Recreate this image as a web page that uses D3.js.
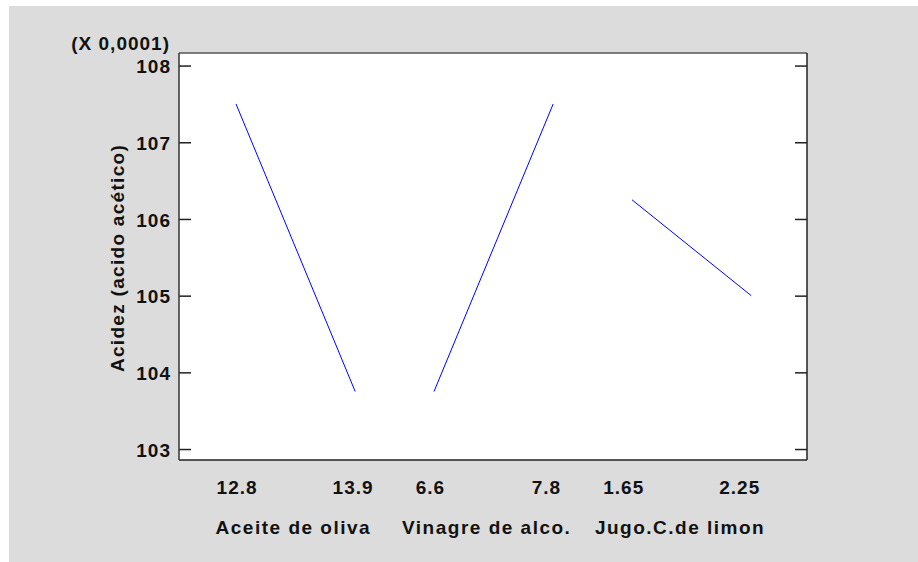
<!DOCTYPE html>
<html>
<head>
<meta charset="utf-8">
<script src="https://cdn.jsdelivr.net/npm/d3@7"></script>
<style>
  html, body { margin: 0; padding: 0; background: #ffffff; }
  svg { display: block; }
  text { font-family: "Liberation Sans", Arial, sans-serif; font-weight: bold; fill: #111; }
</style>
</head>
<body>
<svg id="chart" width="918" height="562"></svg>
<script>
// ---- data ----
const factors    = ["Aceite de oliva", "Vinagre de alco.", "Jugo.C.de limon"];
const lowLabels  = ["12.8", "6.6", "1.65"];
const highLabels = ["13.9", "7.8", "2.25"];
const lowMeans   = [107.5, 103.75, 106.25];
const highMeans  = [103.75, 107.5, 105.0];
const yTicks     = [103, 104, 105, 106, 107, 108];
const yTitle     = "Acidez (acido acético)";
const yMultiplier = "(X 0,0001)";

// ---- layout ----
const svg = d3.select("#chart");
const plot = { left: 179, top: 53, right: 807, bottom: 460 };

svg.append("rect").attr("x", 9).attr("y", 6).attr("width", 909).attr("height", 556).attr("fill", "#dcdcdc");
svg.append("rect").attr("x", plot.left).attr("y", plot.top)
   .attr("width", plot.right - plot.left).attr("height", plot.bottom - plot.top)
   .attr("fill", "#ffffff");

const y = d3.scaleLinear().domain([102.857, 108.164]).range([plot.bottom, plot.top]);
const xBand = d3.scaleBand().domain(factors).range([196, 790]).padding(0);
const xLabelBand = d3.scaleBand().domain(factors).range([196, 776]).padding(0);
const level = d3.scaleLinear().domain([0, 1]).range([0.202, 0.804]);
const labelLevel = d3.scaleLinear().domain([0, 1]).range([0.21, 0.81]);

// ---- axes ----
const yAxisL = d3.axisLeft(y).tickValues(yTicks).tickFormat(d3.format("d"))
  .tickSizeInner(-12).tickSizeOuter(0).tickPadding(8);
const gL = svg.append("g").attr("transform", `translate(${plot.left},0)`).call(yAxisL);
gL.select(".domain").remove();
gL.selectAll(".tick line").attr("stroke", "#222").attr("stroke-width", 1.5);
gL.selectAll(".tick text")
  .attr("font-size", 19).attr("letter-spacing", "1px")
  .attr("font-family", "Liberation Sans, Arial, sans-serif").attr("font-weight", "bold")
  .attr("fill", "#111").attr("dy", "0.38em");

const yAxisR = d3.axisRight(y).tickValues(yTicks).tickFormat("")
  .tickSizeInner(-12).tickSizeOuter(0);
const gR = svg.append("g").attr("transform", `translate(${plot.right},0)`).call(yAxisR);
gR.select(".domain").remove();
gR.selectAll(".tick line").attr("stroke", "#222").attr("stroke-width", 1.5);

// frame
svg.append("line").attr("x1", plot.left).attr("x2", plot.right).attr("y1", plot.top).attr("y2", plot.top)
   .attr("stroke", "#555").attr("stroke-width", 1.5);
svg.append("line").attr("x1", plot.left).attr("x2", plot.right).attr("y1", plot.bottom).attr("y2", plot.bottom)
   .attr("stroke", "#222").attr("stroke-width", 1.5);
svg.append("line").attr("x1", plot.left).attr("x2", plot.left).attr("y1", plot.top).attr("y2", plot.bottom)
   .attr("stroke", "#333").attr("stroke-width", 1.5);
svg.append("line").attr("x1", plot.right).attr("x2", plot.right).attr("y1", plot.top).attr("y2", plot.bottom)
   .attr("stroke", "#222").attr("stroke-width", 1.5);

// ---- lines ----
const line = d3.line().x(d => d[0]).y(d => y(d[1]));
factors.forEach((f, i) => {
  const x0 = xBand(f) + level(0) * xBand.bandwidth();
  const x1 = xBand(f) + level(1) * xBand.bandwidth();
  svg.append("path")
    .datum([[x0, lowMeans[i]], [x1, highMeans[i]]])
    .attr("d", line).attr("fill", "none").attr("stroke", "#0000ff").attr("stroke-width", 1);

  const lx0 = xLabelBand(f) + labelLevel(0) * xLabelBand.bandwidth();
  const lx1 = xLabelBand(f) + labelLevel(1) * xLabelBand.bandwidth();
  [[lx0, lowLabels[i]], [lx1, highLabels[i]]].forEach(([lx, t]) => {
    svg.append("text").attr("x", lx + 0.5).attr("y", 494).attr("text-anchor", "middle")
      .attr("font-size", 19).attr("letter-spacing", "1px").text(t);
  });
  svg.append("text")
    .attr("x", xLabelBand(f) + xLabelBand.bandwidth() / 2 + 0.7).attr("y", 534)
    .attr("text-anchor", "middle").attr("font-size", 19).attr("letter-spacing", "1.5px").text(f);
});

// ---- titles ----
svg.append("text").attr("x", 170).attr("y", 50).attr("text-anchor", "end")
  .attr("font-size", 19).attr("letter-spacing", "1px").text(yMultiplier);
svg.append("text").attr("transform", "translate(124,258) rotate(-90)")
  .attr("text-anchor", "middle").attr("font-size", 19).attr("letter-spacing", "1.3px").text(yTitle);
</script>
</body>
</html>
